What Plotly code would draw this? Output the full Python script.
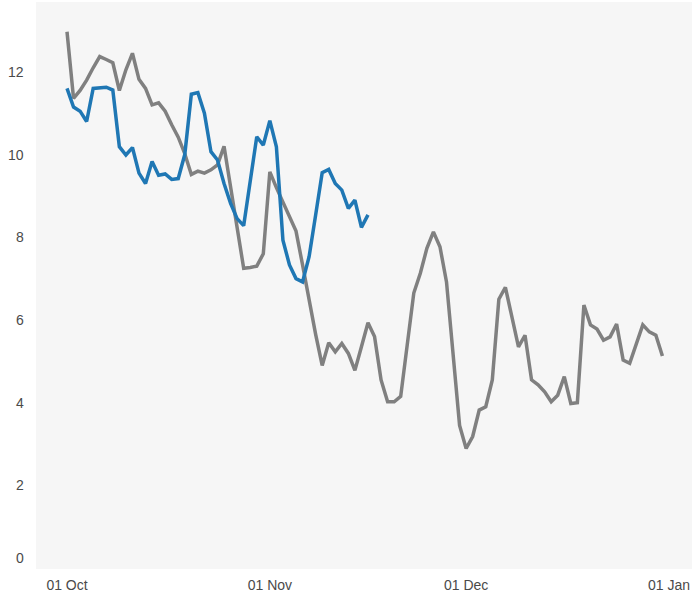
import pandas as pd
import plotly.graph_objects as go

start_date = "2020-10-01"

gray_values = [
    12.97, 11.36, 11.55, 11.80, 12.10, 12.37, 12.30, 12.22, 11.55, 12.05,
    12.45, 11.82, 11.60, 11.20, 11.25, 11.05, 10.72, 10.42, 10.02, 9.52,
    9.60, 9.55, 9.63, 9.75, 10.20, 9.20, 8.20, 7.25, 7.27, 7.30,
    7.60, 9.58, 9.20, 8.85, 8.50, 8.15, 7.33, 6.47, 5.65, 4.90,
    5.45, 5.23, 5.43, 5.19, 4.78, 5.35, 5.93, 5.60, 4.55, 4.02,
    4.02, 4.15, 5.40, 6.65, 7.13, 7.73, 8.13, 7.77, 6.92, 5.20,
    3.45, 2.89, 3.18, 3.82, 3.90, 4.55, 6.50, 6.79, 6.04, 5.35,
    5.63, 4.55, 4.43, 4.26, 4.02, 4.18, 4.63, 3.98, 4.00, 6.36,
    5.88, 5.78, 5.51, 5.59, 5.90, 5.03, 4.95, 5.42, 5.88, 5.71,
    5.63, 5.13,
]

blue_values = [
    11.60, 11.15, 11.05, 10.80, 11.60, 11.62, 11.63, 11.56, 10.19, 9.99,
    10.17, 9.55, 9.30, 9.83, 9.50, 9.53, 9.40, 9.42, 10.00, 11.46,
    11.50, 11.00, 10.07, 9.87, 9.30, 8.82, 8.45, 8.28, 9.38, 10.43,
    10.23, 10.82, 10.19, 7.93, 7.33, 7.00, 6.92, 7.53, 8.54, 9.56,
    9.64, 9.30, 9.14, 8.70, 8.90, 8.24, 8.54,
]

x_tick_dates = ["2020-10-01", "2020-11-01", "2020-12-01", "2021-01-01"]
y_tick_values = [0, 2, 4, 6, 8, 10, 12]

gray_dates = pd.date_range(start_date, periods=len(gray_values), freq="D")
blue_dates = pd.date_range(start_date, periods=len(blue_values), freq="D")

fig = go.Figure()
fig.add_trace(go.Scatter(x=gray_dates, y=gray_values, mode="lines",
                         line=dict(color="#808080", width=3.5), showlegend=False,
                         hoverinfo="skip"))
fig.add_trace(go.Scatter(x=blue_dates, y=blue_values, mode="lines",
                         line=dict(color="#1f77b4", width=3.5), showlegend=False,
                         hoverinfo="skip"))

font_color = "#4a4a4a"
font_family = "Liberation Sans, Arial, sans-serif"
annotations = []
for v in y_tick_values:
    annotations.append(dict(
        x=0, xref="paper", y=v, yref="y", text=str(v), showarrow=False,
        xanchor="right", yanchor="middle", xshift=-10,
        yshift=10 if v == 0 else 0,
        font=dict(family=font_family, size=14, color=font_color),
    ))

fig.update_layout(
    width=693, height=594,
    margin=dict(l=36, r=1, t=2, b=25),
    paper_bgcolor="white",
    plot_bgcolor="#f6f6f6",
    font=dict(family=font_family, size=14, color=font_color),
    annotations=annotations,
    xaxis=dict(
        type="date",
        range=["2020-09-26 06:15", "2021-01-04 12:30"],
        tickvals=x_tick_dates,
        tickformat="%d %b",
        showgrid=False, zeroline=False, showline=False, ticks="",
        automargin=False,
        ticklabelstandoff=6,
    ),
    yaxis=dict(
        range=[-0.024, 13.69],
        tickvals=y_tick_values,
        showticklabels=False,
        showgrid=False, zeroline=False, showline=False, ticks="",
        automargin=False,
    ),
)

fig.write_html("out.html", config={"displayModeBar": False},
               post_script="document.body.style.margin='0';")
